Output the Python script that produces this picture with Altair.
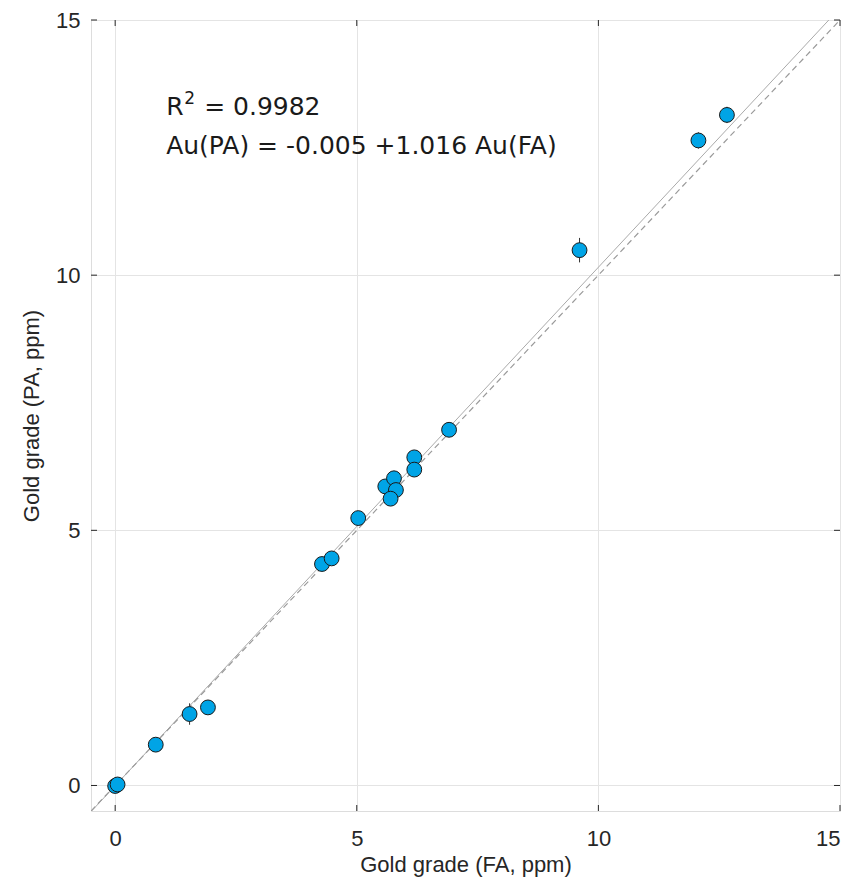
import altair as alt
import pandas as pd

# ---- data ----
fa_ppm = [0.00, 0.05, 0.84, 1.54, 1.92, 4.28, 4.48, 5.03, 5.59, 5.77, 5.81, 5.70, 6.19, 6.19, 6.91, 9.61, 12.07, 12.66]
pa_ppm = [-0.01, 0.02, 0.80, 1.40, 1.53, 4.34, 4.45, 5.24, 5.86, 6.02, 5.79, 5.62, 6.43, 6.19, 6.97, 10.49, 12.64, 13.14]
pa_err = [0.05, 0.05, 0.08, 0.21, 0.10, 0.10, 0.10, 0.10, 0.10, 0.10, 0.10, 0.10, 0.10, 0.10, 0.10, 0.24, 0.16, 0.16]

tick_values = [0, 5, 10, 15]
axis_domain = [-0.5, 15]
fit_intercept = -0.005
fit_slope = 1.016
fit_x = [-0.5, 14.77]
one_x = [-0.5, 15]

r2_text = "0.9982"
eq_text = "Au(PA) = -0.005 +1.016 Au(FA)"
ann_x = [1.055]
ann_y = [13.14, 12.38]

W, H = 749, 791

pts = pd.DataFrame({
    "fa": fa_ppm,
    "pa": pa_ppm,
    "lo": [p - e for p, e in zip(pa_ppm, pa_err)],
    "hi": [p + e for p, e in zip(pa_ppm, pa_err)],
})
fit_df = pd.DataFrame({"fa": fit_x, "pa": [fit_intercept + fit_slope * x for x in fit_x]})
one_df = pd.DataFrame({"fa": one_x, "pa": one_x})
ticks_df = pd.DataFrame({"t": tick_values})

AX_FONT = "Liberation Sans Narrow, Liberation Sans, Arial"
ANN_FONT = "DejaVu Sans"

xs = alt.Scale(domain=axis_domain, nice=False, zero=False)
ys = alt.Scale(domain=axis_domain, nice=False, zero=False)

xaxis = alt.Axis(values=tick_values, tickSize=0, domain=False, grid=True,
                 gridColor="#e4e4e4", gridWidth=1, labelFontSize=22, labelFont=AX_FONT,
                 labelColor="#262626", labelPadding=17, titleFont=AX_FONT, titleFontSize=22,
                 titleColor="#262626", titleFontWeight="normal", titlePadding=5, format="d")
yaxis = alt.Axis(values=tick_values, tickSize=0, domain=False, grid=True,
                 gridColor="#e4e4e4", gridWidth=1, labelFontSize=22, labelFont=AX_FONT,
                 labelColor="#262626", labelPadding=11, titleFont=AX_FONT, titleFontSize=22,
                 titleColor="#262626", titleFontWeight="normal", titlePadding=12, format="d")

XT = "Gold grade (FA, ppm)"
YT = "Gold grade (PA, ppm)"


def X(f):
    return alt.X(f, type="quantitative", scale=xs, axis=xaxis, title=XT)


def Y(f):
    return alt.Y(f, type="quantitative", scale=ys, axis=yaxis, title=YT)


fit_line = alt.Chart(fit_df).mark_line(color="#aaaaaa", strokeWidth=1, clip=True).encode(
    x=X("fa"), y=Y("pa"))
one_line = alt.Chart(one_df).mark_line(color="#9a9a9a", strokeWidth=1.2, strokeDash=[6, 4], clip=True).encode(
    x=X("fa"), y=Y("pa"))

errbars = alt.Chart(pts).mark_rule(color="#333333", strokeWidth=1).encode(
    x=X("fa"), y=Y("lo"), y2="hi")
points = alt.Chart(pts).mark_point(shape="circle", filled=True, size=220, fill="#00A4E6",
                                   stroke="#1a1a1a", strokeWidth=1, opacity=1).encode(
    x=X("fa"), y=Y("pa"))

tick_col = "#262626"
ticks_bottom = alt.Chart(ticks_df).mark_rule(color=tick_col, strokeWidth=1).encode(
    x=X("t"), y=alt.value(H), y2=alt.value(H - 6))
ticks_top = alt.Chart(ticks_df).mark_rule(color=tick_col, strokeWidth=1).encode(
    x=X("t"), y=alt.value(0), y2=alt.value(6))
ticks_left = alt.Chart(ticks_df).mark_rule(color=tick_col, strokeWidth=1).encode(
    y=Y("t"), x=alt.value(0), x2=alt.value(6))
ticks_right = alt.Chart(ticks_df).mark_rule(color=tick_col, strokeWidth=1).encode(
    y=Y("t"), x=alt.value(W), x2=alt.value(W - 6))

r_df = pd.DataFrame({"x": ann_x, "y": [ann_y[0]]})
eq_df = pd.DataFrame({"x": ann_x, "y": [ann_y[1]], "t": [eq_text]})

txt_common = dict(font=ANN_FONT, color="#1a1a1a", align="left", baseline="alphabetic")
r_main = alt.Chart(r_df).mark_text(text="R", fontSize=25, **txt_common).encode(x=X("x"), y=Y("y"))
r_sup = alt.Chart(r_df).mark_text(text="2", fontSize=17, dx=18, dy=-11, **txt_common).encode(x=X("x"), y=Y("y"))
r_val = alt.Chart(r_df).mark_text(text="= " + r2_text, fontSize=25, dx=38, **txt_common).encode(x=X("x"), y=Y("y"))
eq = alt.Chart(eq_df).mark_text(fontSize=25, **txt_common).encode(x=X("x"), y=Y("y"), text="t:N")

chart = alt.layer(
    fit_line, one_line, errbars, points,
    ticks_bottom, ticks_top, ticks_left, ticks_right,
    r_main, r_sup, r_val, eq,
).properties(
    width=W, height=H,
    autosize=alt.AutoSizeParams(type="none"),
    padding={"left": 83, "top": 12, "right": 12, "bottom": 73},
).configure_view(
    stroke="#8c8c8c", strokeWidth=1.5
).configure(background="white")

chart.save("out.html", embed_options={"renderer": "svg", "actions": False})
